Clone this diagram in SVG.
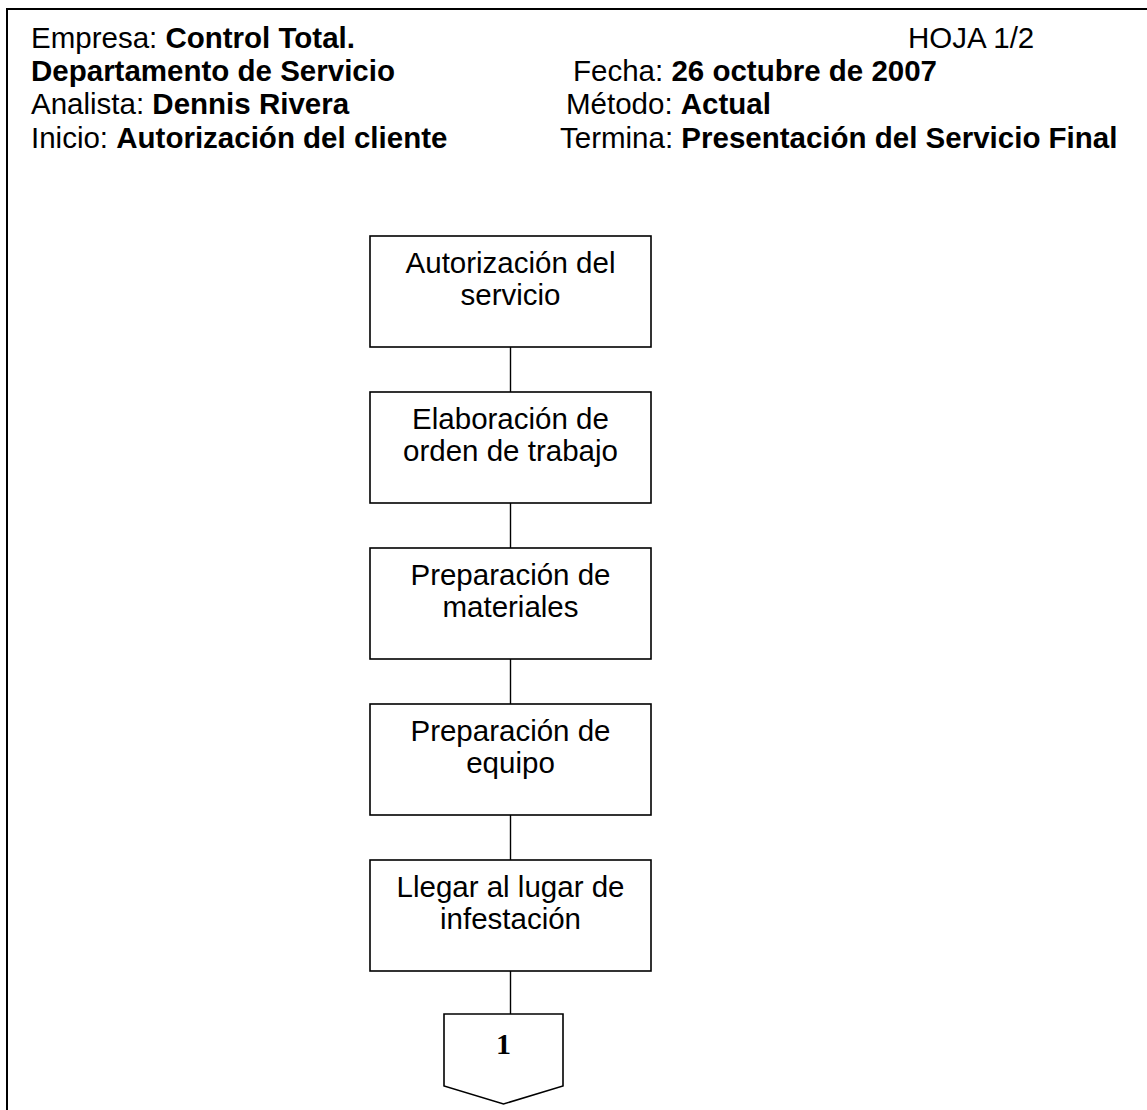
<svg xmlns="http://www.w3.org/2000/svg" width="1147" height="1110" viewBox="0 0 1147 1110">
  <style>
    .hdr { font-family: "Liberation Sans", Arial, sans-serif; font-size: 29.5px; fill: #000; }
    .b { font-weight: bold; }
    .box { fill: #fff; stroke: #000; stroke-width: 1.6; }
    .lbl { font-family: "Liberation Sans", Arial, sans-serif; font-size: 29.5px; fill: #000; text-anchor: middle; }
    .conn { stroke: #000; stroke-width: 1.4; fill: none; }
  </style>
  <rect width="1147" height="1110" fill="#fff"/>

  <!-- page frame: top and left edges -->
  <path d="M7 1110 V9 H1147" fill="none" stroke="#000" stroke-width="2"/>

  <!-- header block -->
  <g id="header">
    <text class="hdr" x="31" y="48">Empresa: <tspan class="b">Control Total.</tspan></text>
    <text class="hdr" x="908" y="48">HOJA 1/2</text>
    <text class="hdr b" x="31" y="81">Departamento de Servicio</text>
    <text class="hdr" x="573" y="81">Fecha: <tspan class="b">26 octubre de 2007</tspan></text>
    <text class="hdr" x="31" y="114">Analista: <tspan class="b">Dennis Rivera</tspan></text>
    <text class="hdr" x="566" y="114">Método: <tspan class="b">Actual</tspan></text>
    <text class="hdr" x="31" y="148">Inicio: <tspan class="b">Autorización del cliente</tspan></text>
    <text class="hdr" x="560" y="148">Termina: <tspan class="b">Presentación del Servicio Final</tspan></text>
  </g>

  <!-- connectors -->
  <g id="connectors">
    <line class="conn" x1="510.5" y1="347" x2="510.5" y2="392"/>
    <line class="conn" x1="510.5" y1="503" x2="510.5" y2="548"/>
    <line class="conn" x1="510.5" y1="659" x2="510.5" y2="704"/>
    <line class="conn" x1="510.5" y1="815" x2="510.5" y2="860"/>
    <line class="conn" x1="510.5" y1="971" x2="510.5" y2="1014"/>
  </g>

  <g id="n1">
    <rect class="box" x="370" y="236" width="281" height="111"/>
    <text class="lbl" x="510.5" y="273">Autorización del</text>
    <text class="lbl" x="510.5" y="305">servicio</text>
  </g>
  <g id="n2">
    <rect class="box" x="370" y="392" width="281" height="111"/>
    <text class="lbl" x="510.5" y="429">Elaboración de</text>
    <text class="lbl" x="510.5" y="461">orden de trabajo</text>
  </g>
  <g id="n3">
    <rect class="box" x="370" y="548" width="281" height="111"/>
    <text class="lbl" x="510.5" y="585">Preparación de</text>
    <text class="lbl" x="510.5" y="617">materiales</text>
  </g>
  <g id="n4">
    <rect class="box" x="370" y="704" width="281" height="111"/>
    <text class="lbl" x="510.5" y="741">Preparación de</text>
    <text class="lbl" x="510.5" y="773">equipo</text>
  </g>
  <g id="n5">
    <rect class="box" x="370" y="860" width="281" height="111"/>
    <text class="lbl" x="510.5" y="897">Llegar al lugar de</text>
    <text class="lbl" x="510.5" y="929">infestación</text>
  </g>

  <!-- off-page connector -->
  <g id="offpage1">
    <path class="box" d="M444 1014 H563 V1086 L503.5 1104 L444 1086 Z"/>
    <text x="503.5" y="1054" text-anchor="middle" font-family="'Liberation Serif', 'Times New Roman', serif" font-weight="bold" font-size="30px">1</text>
  </g>
</svg>
